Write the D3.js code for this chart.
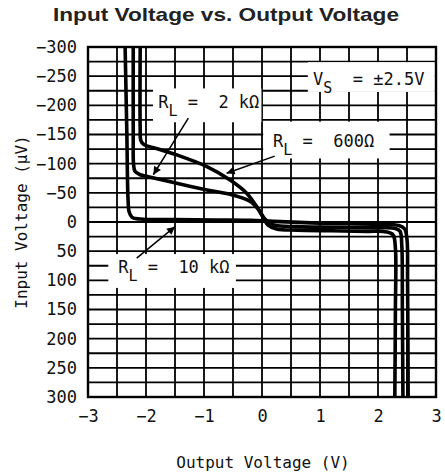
<!DOCTYPE html>
<html>
<head>
<meta charset="utf-8">
<script src="https://cdn.jsdelivr.net/npm/d3@7"></script>
<style>
  body { margin: 0; background: #fff; }
  .mono { font-family: "DejaVu Sans Mono", monospace; fill: #111; }
</style>
</head>
<body>
<div id="chart"></div>
<script>
// output voltage (V) / input voltage (uV) pairs
var rl10k = [
  [-2.36, -300], [-2.33, -150], [-2.31, -40], [-2.29, -17], [-2.24, -8], [-2.1, -5],
  [-1.5, -4], [-0.8, -3.5], [-0.2, -3], [0.2, -1], [1.0, 2], [2.0, 4],
  [2.36, 6], [2.46, 12], [2.5, 30], [2.51, 100], [2.52, 300]
];
var rl2k = [
  [-2.22, -300], [-2.22, -150], [-2.215, -100], [-2.19, -87], [-2.1, -81], [-1.96, -77.7],
  [-1.47, -66.3], [-0.95, -55], [-0.5, -46], [-0.2, -35], [-0.05, -20], [0.05, -5],
  [0.2, 5], [0.6, 8], [1.2, 9], [2.0, 10], [2.3, 11], [2.38, 16], [2.41, 40],
  [2.42, 150], [2.43, 300]
];
var rl600 = [
  [-2.10, -300], [-2.10, -160], [-2.09, -140], [-2.04, -133], [-1.82, -126], [-1.47, -115],
  [-0.95, -95], [-0.55, -72], [-0.26, -49], [-0.09, -26], [0.02, -8], [0.1, 5],
  [0.25, 12], [0.6, 14], [1.2, 15], [1.8, 16], [2.15, 17], [2.26, 22], [2.30, 45],
  [2.30, 150], [2.29, 300]
];

var xTicks = [-3, -2, -1, 0, 1, 2, 3];
var yTicks = [-300, -250, -200, -150, -100, -50, 0, 50, 100, 150, 200, 250, 300];

var width = 445;
var height = 473;
var margin = { top: 47, right: 9, bottom: 76, left: 88 };

var svg = d3.select('#chart')
  .append('svg')
  .attr('width', width)
  .attr('height', height);

var x = d3.scaleLinear()
  .domain([-3, 3])
  .range([margin.left, width - margin.right]);

var y = d3.scaleLinear()
  .domain([-300, 300])
  .range([margin.top, height - margin.bottom]);

// title
svg.append('text')
  .attr('x', 226)
  .attr('y', 21)
  .attr('text-anchor', 'middle')
  .attr('textLength', 346)
  .attr('lengthAdjust', 'spacingAndGlyphs')
  .style('font-family', '"Liberation Sans", Arial, sans-serif')
  .style('font-weight', 'bold')
  .style('font-size', '19px')
  .style('fill', '#222')
  .text('Input Voltage vs. Output Voltage');

// grid, every 0.5 V and every 25 uV
var grid = svg.append('g').attr('stroke', '#000').attr('stroke-width', 1.8);
grid.selectAll('line.v')
  .data(d3.range(-2.5, 3, 0.5))
  .join('line')
  .attr('class', 'v')
  .attr('x1', d => x(d)).attr('x2', d => x(d))
  .attr('y1', y(-300)).attr('y2', y(300));
grid.selectAll('line.h')
  .data(d3.range(-275, 300, 25))
  .join('line')
  .attr('class', 'h')
  .attr('y1', d => y(d)).attr('y2', d => y(d))
  .attr('x1', x(-3)).attr('x2', x(3));

// label boxes knock out the grid
var notes = [
  { box: [0.79, 2.98, -274, -223], at: [0.88, -235], main: 'V', sub: 'S', rest: '  = ±2.5V' },
  { box: [-1.88, -0.01, -229, -171], at: [-1.79, -195], main: 'R', sub: 'L', rest: ' =  2 kΩ' },
  { box: [0.02, 2.2, -172, -109], at: [0.19, -128], main: 'R', sub: 'L', rest: ' =  600Ω' },
  { box: [-2.65, -0.45, 55, 113], at: [-2.48, 87], main: 'R', sub: 'L', rest: ' =  10 kΩ' }
];

svg.append('g')
  .attr('fill', '#fff')
  .selectAll('rect')
  .data(notes)
  .join('rect')
  .attr('x', d => x(d.box[0]))
  .attr('y', d => y(d.box[2]))
  .attr('width', d => x(d.box[1]) - x(d.box[0]))
  .attr('height', d => y(d.box[3]) - y(d.box[2]));

// frame
svg.append('rect')
  .attr('x', x(-3)).attr('y', y(-300))
  .attr('width', x(3) - x(-3)).attr('height', y(300) - y(-300))
  .attr('fill', 'none')
  .attr('stroke', '#000')
  .attr('stroke-width', 2.4);

// curves
var line = d3.line()
  .x(d => x(d[0]))
  .y(d => y(d[1]))
  .curve(d3.curveCatmullRom.alpha(0.5));

svg.append('g')
  .attr('fill', 'none')
  .attr('stroke', '#000')
  .attr('stroke-width', 3.6)
  .attr('stroke-linejoin', 'round')
  .selectAll('path')
  .data([rl10k, rl2k, rl600])
  .join('path')
  .attr('d', line);

// label text
var lbl = svg.append('g')
  .selectAll('text')
  .data(notes)
  .join('text')
  .attr('class', 'mono')
  .attr('x', d => x(d.at[0]))
  .attr('y', d => y(d.at[1]))
  .style('font-size', '17px')
  .style('white-space', 'pre');
lbl.append('tspan').text(d => d.main);
lbl.append('tspan').attr('dy', 8).style('font-size', '15px').text(d => d.sub);
lbl.append('tspan').attr('dy', -8).text(d => d.rest);

// arrows
svg.append('defs').append('marker')
  .attr('id', 'head')
  .attr('viewBox', '0 0 10 10')
  .attr('refX', 10).attr('refY', 5)
  .attr('markerWidth', 11).attr('markerHeight', 8)
  .attr('markerUnits', 'userSpaceOnUse')
  .attr('orient', 'auto')
  .append('path')
  .attr('d', 'M0,0L10,5L0,10z')
  .attr('fill', '#000');

var arrows = [
  [[-1.27, -178], [-1.874, -81]],
  [[0.22, -113], [-0.61, -83.5]],
  [[-2.16, 62], [-1.5, 8]]
];

svg.append('g')
  .selectAll('line')
  .data(arrows)
  .join('line')
  .attr('x1', d => x(d[0][0])).attr('y1', d => y(d[0][1]))
  .attr('x2', d => x(d[1][0])).attr('y2', d => y(d[1][1]))
  .attr('stroke', '#000')
  .attr('stroke-width', 1.5)
  .attr('marker-end', 'url(#head)');

// axes
var fmt = d3.format('d');
function xAxis(g) {
  g.attr('transform', `translate(0, ${height - margin.bottom})`)
    .call(d3.axisBottom(x).tickValues(xTicks).tickFormat(fmt).tickSize(0).tickPadding(13))
    .call(g => g.select('.domain').remove());
}
function yAxis(g) {
  g.attr('transform', `translate(${margin.left}, 0)`)
    .call(d3.axisLeft(y).tickValues(yTicks).tickFormat(fmt).tickSize(0).tickPadding(11))
    .call(g => g.select('.domain').remove());
}
svg.append('g').call(xAxis);
svg.append('g').call(yAxis);
svg.selectAll('.tick text')
  .attr('class', 'mono')
  .attr('font-family', null)
  .style('font-size', '17px');

svg.append('text')
  .attr('class', 'mono')
  .attr('x', 263)
  .attr('y', 468)
  .attr('text-anchor', 'middle')
  .style('font-size', '16px')
  .text('Output Voltage (V)');

svg.append('text')
  .attr('class', 'mono')
  .attr('transform', 'rotate(-90)')
  .attr('x', -222)
  .attr('y', 27)
  .attr('text-anchor', 'middle')
  .style('font-size', '16px')
  .text('Input Voltage (μV)');
</script>
</body>
</html>
